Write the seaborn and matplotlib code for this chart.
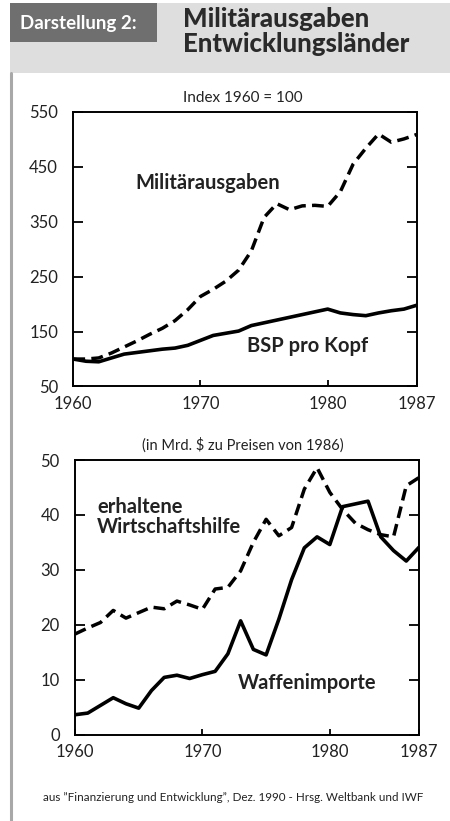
import matplotlib
matplotlib.use("Agg")
import matplotlib.pyplot as plt
import seaborn as sns
import pandas as pd
from matplotlib.patches import Rectangle
from matplotlib.lines import Line2D

# ---------------- data ----------------
years = list(range(1960, 1988))
militaer = [100, 100, 102, 111, 122, 133, 145, 156, 170, 190, 214, 227, 242, 262,
            297, 358, 383, 372, 379, 380, 378, 405, 455, 484, 510, 495, 501, 509]
bsp_pro_kopf = [100, 96, 95, 102, 109, 112, 115, 118, 120, 125, 134, 143, 147, 151,
                161, 166, 171, 176, 181, 186, 191, 184, 181, 179, 184, 188, 191, 198]
wirtschaftshilfe = [18.3, 19.4, 20.4, 22.6, 21.2, 22.2, 23.2, 22.9, 24.3, 23.6, 22.8,
                    26.5, 26.8, 29.8, 35.0, 39.2, 36.2, 37.7, 44.7, 48.6, 44.1, 41.0,
                    38.5, 37.3, 36.4, 36.0, 45.3, 46.8]
waffenimporte = [3.6, 3.9, 5.3, 6.7, 5.6, 4.8, 8.0, 10.4, 10.8, 10.2, 10.9, 11.5,
                 14.7, 20.7, 15.5, 14.5, 21.0, 28.2, 34.0, 36.0, 34.6, 41.5, 42.0,
                 42.5, 36.0, 33.5, 31.6, 34.1]

top_yticks = [50, 150, 250, 350, 450, 550]
bottom_yticks = [0, 10, 20, 30, 40, 50]
xticks = [1960, 1970, 1980, 1987]

df_top = pd.DataFrame({"Jahr": years, "Militärausgaben": militaer, "BSP pro Kopf": bsp_pro_kopf})
df_bot = pd.DataFrame({"Jahr": years, "Wirtschaftshilfe": wirtschaftshilfe, "Waffenimporte": waffenimporte})

# ---------------- style ----------------
sns.set_theme(style="ticks")
plt.rcParams['font.family'] = ['Lato', 'DejaVu Sans']
plt.rcParams['axes.edgecolor'] = 'black'
plt.rcParams['xtick.color'] = 'black'
plt.rcParams['ytick.color'] = 'black'
plt.rcParams['text.color'] = '#222222'

W, H = 450, 821
fig = plt.figure(figsize=(4.5, 8.21), dpi=100)
fig.patch.set_facecolor("white")

def fx(px):
    return px / W

def fy(py):
    return 1 - py / H

# header band
fig.patches.append(Rectangle((fx(10), fy(73)), fx(440), 70 / H, transform=fig.transFigure,
                             facecolor="#dedede", edgecolor="none", zorder=0))
fig.patches.append(Rectangle((fx(10), fy(42)), fx(147), 39 / H, transform=fig.transFigure,
                             facecolor="#6f6f6f", edgecolor="none", zorder=1))
fig.add_artist(Line2D([fx(11), fx(11)], [fy(73), fy(821)], transform=fig.transFigure,
                      color="#a8a8a8", lw=2.2))

fig.text(fx(20), fy(23), "Darstellung 2:", color="white", fontsize=13.5, fontweight="bold",
         ha="left", va="center")
fig.text(fx(183), fy(19), "Militärausgaben", color="#2a2a2a", fontsize=18.5, fontweight="black",
         ha="left", va="center")
fig.text(fx(183), fy(44.5), "Entwicklungsländer", color="#2a2a2a", fontsize=18.5, fontweight="black",
         ha="left", va="center")

dash = (0, (3.4, 1.8))

def style_axes(ax, yticks, ylim):
    ax.set_xlim(1960, 1987)
    ax.set_ylim(*ylim)
    ax.set_xticks(xticks)
    ax.set_yticks(yticks)
    ax.set_xlabel("")
    ax.set_ylabel("")
    for s in ax.spines.values():
        s.set_visible(True)
        s.set_linewidth(1.4)
        s.set_color("black")
    ax.tick_params(axis="y", direction="in", length=7, width=1.3, left=True, right=True,
                   labelsize=12, pad=11, labelcolor="#222222")
    ax.tick_params(axis="x", direction="in", length=4, width=1.3, bottom=True, top=False,
                   labelsize=12, pad=7, labelcolor="#222222")
    if ax.get_legend() is not None:
        ax.get_legend().remove()

# ---------------- top chart ----------------
ax1 = fig.add_axes([fx(73.3), fy(386.5), fx(416.7 - 73.3), (386.5 - 112) / H])
sns.lineplot(data=df_top, x="Jahr", y="Militärausgaben", ax=ax1, color="black",
             lw=2.5, linestyle=dash)
sns.lineplot(data=df_top, x="Jahr", y="BSP pro Kopf", ax=ax1, color="black", lw=2.6)
style_axes(ax1, top_yticks, (50, 550))

fig.text(fx(243), fy(98), "Index 1960 = 100", fontsize=11, ha="center", va="center")
fig.text(fx(208), fy(183), "Militärausgaben", fontsize=14.5, fontweight="bold",
         ha="center", va="center")
fig.text(fx(308), fy(346), "BSP pro Kopf", fontsize=14.5, fontweight="bold",
         ha="center", va="center")

# ---------------- bottom chart ----------------
ax2 = fig.add_axes([fx(75), fy(734.5), fx(419 - 75), (734.5 - 460) / H])
sns.lineplot(data=df_bot, x="Jahr", y="Wirtschaftshilfe", ax=ax2, color="black",
             lw=2.5, linestyle=dash)
sns.lineplot(data=df_bot, x="Jahr", y="Waffenimporte", ax=ax2, color="black", lw=2.6)
style_axes(ax2, bottom_yticks, (0, 50))

fig.text(fx(243), fy(445), "(in Mrd. $ zu Preisen von 1986)", fontsize=10.5,
         ha="center", va="center")
fig.text(fx(97), fy(507), "erhaltene", fontsize=14.5, fontweight="bold",
         ha="left", va="center")
fig.text(fx(97), fy(527), "Wirtschaftshilfe", fontsize=14.5, fontweight="bold",
         ha="left", va="center")
fig.text(fx(307), fy(683), "Waffenimporte", fontsize=14.5, fontweight="bold",
         ha="center", va="center")

fig.text(fx(233), fy(797),
         "aus \u201dFinanzierung und Entwicklung\u201d, Dez. 1990 - Hrsg. Weltbank und IWF",
         fontsize=8.4, ha="center", va="center")

fig.savefig("out.png", dpi=100, facecolor="white")
